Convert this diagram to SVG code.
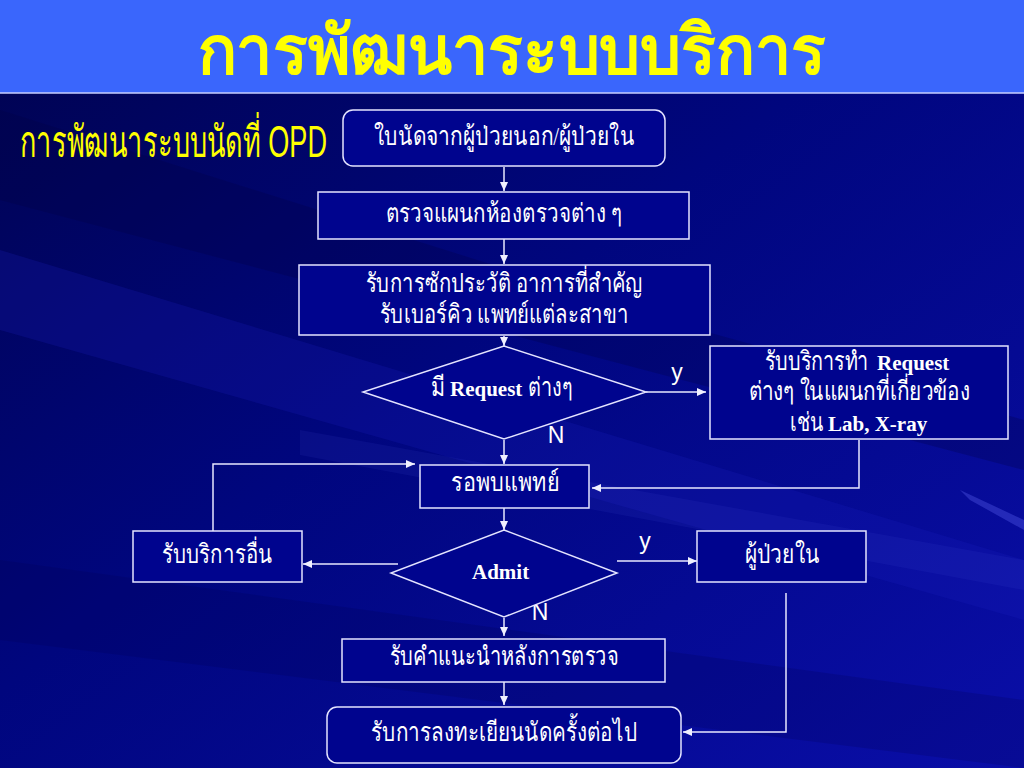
<svg xmlns="http://www.w3.org/2000/svg" width="1024" height="768" viewBox="0 0 1024 768">
<defs>
<linearGradient id="bg" x1="0" y1="0" x2="1" y2="1">
<stop offset="0" stop-color="#00034f"/>
<stop offset="0.45" stop-color="#00067e"/>
<stop offset="1" stop-color="#0a0ea8"/>
</linearGradient>
<marker id="ah" markerUnits="userSpaceOnUse" markerWidth="9" markerHeight="8" refX="9" refY="4" orient="auto">
<path d="M0,0 L9,4 L0,8 z" fill="#f0f0ff"/>
</marker>
<style>
.box{fill:#00048e;stroke:#e4e4ff;stroke-width:1.5}
.con{fill:none;stroke:#e8e8ff;stroke-width:1.5;marker-end:url(#ah)}
.th{font-family:"Liberation Serif","Noto Sans",serif;fill:#ffffff;font-size:26px;text-anchor:middle}
.st{text-anchor:start}
.lat{font-family:"Liberation Serif",serif;font-weight:bold;fill:#ffffff;font-size:21px;text-anchor:start}
.lbl{font-family:"Liberation Sans",Arial,sans-serif;fill:#ffffff;font-size:23px;text-anchor:middle}
</style>
</defs>
<rect x="0" y="0" width="1024" height="768" fill="url(#bg)"/>
<g id="streaks">
<polygon points="0,250 1024,560 1024,620 0,330" fill="#1a22c0" opacity="0.22"/>
<polygon points="0,110 700,330 1024,420 1024,470 0,200" fill="#000040" opacity="0.25"/>
<polygon points="300,430 1024,560 1024,590 300,455" fill="#4a55e0" opacity="0.1"/>
<polygon points="0,560 1024,700 1024,768 0,640" fill="#000050" opacity="0.2"/>
<polygon points="960,490 1024,520 1024,530 970,500" fill="#6a70ff" opacity="0.3"/>
</g>
<g id="title">
<rect x="0" y="0" width="1024" height="93" fill="#3a66fc"/>
<line x1="0" y1="93" x2="1024" y2="93" stroke="#c8d0ff" stroke-width="1.5"/>
<text x="512" y="74" font-family="Noto Sans, Liberation Sans, sans-serif" font-weight="bold" font-size="68" fill="#ffff00" text-anchor="middle" textLength="629" lengthAdjust="spacingAndGlyphs">การพัฒนาระบบบริการ</text>
</g>
<g id="subtitle">
<text transform="translate(20,157) scale(0.615,1)" x="0" y="0" font-family="Liberation Sans, Noto Sans, sans-serif" font-size="44" fill="#ffff00">การพัฒนาระบบนัดที่ OPD</text>
</g>
<g id="connectors">
<line class="con" x1="504" y1="167" x2="504" y2="191"/>
<line class="con" x1="504" y1="239" x2="504" y2="264"/>
<line class="con" x1="504" y1="336" x2="504" y2="346"/>
<line class="con" x1="646" y1="392" x2="706" y2="392"/>
<line class="con" x1="504" y1="440" x2="504" y2="464"/>
<polyline class="con" points="859,440 859,488 592,488"/>
<polyline class="con" points="213,531 213,464 415,464"/>
<line class="con" x1="504" y1="508" x2="504" y2="530"/>
<line class="con" x1="398" y1="564" x2="303" y2="564"/>
<line class="con" x1="617" y1="561" x2="697" y2="561"/>
<line class="con" x1="504" y1="618" x2="504" y2="636"/>
<line class="con" x1="504" y1="682" x2="504" y2="705"/>
<polyline class="con" points="786,593 786,732 683,732"/>
<text class="lbl" x="677" y="380">y</text>
<text class="lbl" x="556" y="443">N</text>
<text class="lbl" x="645" y="549">y</text>
<text class="lbl" x="540" y="620">N</text>
</g>
<g id="n1">
<rect class="box" x="343" y="110" width="322" height="56" rx="10"/>
<text class="th" x="504" y="145" textLength="260" lengthAdjust="spacingAndGlyphs">ใบนัดจากผู้ป่วยนอก/ผู้ป่วยใน</text>
</g>
<g id="n2">
<rect class="box" x="318" y="192" width="371" height="47"/>
<text class="th" x="504" y="222" textLength="237" lengthAdjust="spacingAndGlyphs">ตรวจแผนกห้องตรวจต่าง ๆ</text>
</g>
<g id="n3">
<rect class="box" x="299" y="265" width="411" height="70"/>
<text class="th" x="504" y="292" textLength="277" lengthAdjust="spacingAndGlyphs">รับการซักประวัติ อาการที่สำคัญ</text>
<text class="th" x="504" y="323" textLength="249" lengthAdjust="spacingAndGlyphs">รับเบอร์คิว แพทย์แต่ละสาขา</text>
</g>
<g id="d1">
<polygon class="box" points="504,346 646,392 504,439 363,392"/>
<text class="th st" x="431" y="396" font-size="24" textLength="14" lengthAdjust="spacingAndGlyphs">มี</text>
<text class="lat" x="450" y="396">Request</text>
<text class="th st" x="528" y="396" font-size="24" textLength="45" lengthAdjust="spacingAndGlyphs">ต่างๆ</text>
</g>
<g id="n4">
<rect class="box" x="710" y="346" width="298" height="93"/>
<text class="th st" transform="translate(765,370) scale(0.76,1)" x="0" y="0" font-size="24">รับบริการทำ</text>
<text class="lat" x="877" y="370" font-size="22">Request</text>
<text class="th" transform="translate(859,400) scale(0.8,1)" x="0" y="0" font-size="24">ต่างๆ ในแผนกที่เกี่ยวข้อง</text>
<text class="th st" transform="translate(790,431) scale(0.75,1)" x="0" y="0" font-size="24">เช่น</text>
<text class="lat" x="828" y="431" font-size="21.5">Lab, X-ray</text>
</g>
<g id="n5">
<rect class="box" x="420" y="465" width="169" height="43"/>
<text class="th" x="505" y="491" textLength="108" lengthAdjust="spacingAndGlyphs">รอพบแพทย์</text>
</g>
<g id="n6">
<rect class="box" x="133" y="531" width="169" height="51"/>
<text class="th" x="217" y="563" textLength="111" lengthAdjust="spacingAndGlyphs">รับบริการอื่น</text>
</g>
<g id="d2">
<polygon class="box" points="504,530 617,573 504,617 391,573"/>
<text class="lat" x="472" y="579">Admit</text>
</g>
<g id="n7">
<rect class="box" x="697" y="531" width="169" height="51"/>
<text class="th" x="782" y="563" textLength="75" lengthAdjust="spacingAndGlyphs">ผู้ป่วยใน</text>
</g>
<g id="n8">
<rect class="box" x="342" y="639" width="323" height="43"/>
<text class="th" x="504" y="665" textLength="229" lengthAdjust="spacingAndGlyphs">รับคำแนะนำหลังการตรวจ</text>
</g>
<g id="n9">
<rect class="box" x="327" y="707" width="354" height="56" rx="10"/>
<text class="th" x="504" y="741" textLength="266" lengthAdjust="spacingAndGlyphs">รับการลงทะเยียนนัดครั้งต่อไป</text>
</g>
</svg>
